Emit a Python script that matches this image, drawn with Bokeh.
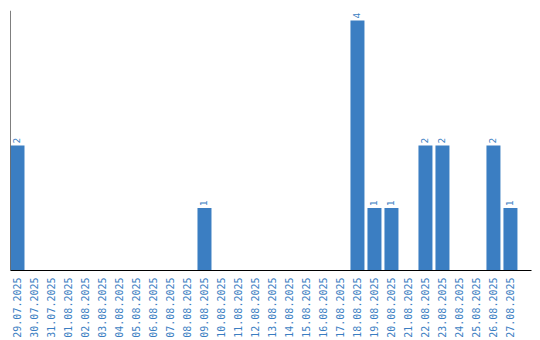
import math
from bokeh.plotting import figure
from bokeh.models import ColumnDataSource, Range1d, FixedTicker, Span
from bokeh.core.properties import value
from bokeh.embed import file_html
from bokeh.resources import INLINE

dates = ["29.07.2025", "30.07.2025", "31.07.2025", "01.08.2025", "02.08.2025",
         "03.08.2025", "04.08.2025", "05.08.2025", "06.08.2025", "07.08.2025",
         "08.08.2025", "09.08.2025", "10.08.2025", "11.08.2025", "12.08.2025",
         "13.08.2025", "14.08.2025", "15.08.2025", "16.08.2025", "17.08.2025",
         "18.08.2025", "19.08.2025", "20.08.2025", "21.08.2025", "22.08.2025",
         "23.08.2025", "24.08.2025", "25.08.2025", "26.08.2025", "27.08.2025"]
counts = [2, 0, 0, 0, 0, 0, 0, 0, 0, 0,
          0, 1, 0, 0, 0, 0, 0, 0, 0, 0,
          4, 1, 1, 0, 2, 2, 0, 0, 2, 1]

BLUE = "#3b7ec2"
bar_w = 14 / 17
centers = [i + bar_w / 2 for i in range(len(dates))]

src = ColumnDataSource(dict(x=centers, top=counts))
lab = ColumnDataSource(dict(
    x=[c for c, v in zip(centers, counts) if v > 0],
    y=[v for v in counts if v > 0],
    t=[str(v) for v in counts if v > 0],
))

p = figure(width=540, height=340, output_backend="svg", toolbar_location=None,
           x_range=Range1d(0, 30.65), y_range=Range1d(0, 4.16),
           min_border_left=10, min_border_right=9, min_border_top=10,
           min_border_bottom=0)
p.outline_line_color = None
p.xgrid.visible = False
p.ygrid.visible = False
p.yaxis.visible = False
p.background_fill_color = "white"

p.vbar(x="x", top="top", width=bar_w, bottom=0, source=src,
       fill_color=BLUE, line_color=None)

p.text(x="x", y="y", text="t", source=lab, angle=math.pi / 2,
       text_align="left", text_baseline="middle", y_offset=-2, x_offset=-1,
       text_font=value("DejaVu Sans"), text_font_size="9px", text_color=BLUE)

p.add_layout(Span(location=0, dimension="height", line_color="black", line_width=1))

xa = p.xaxis[0]
xa.ticker = FixedTicker(ticks=centers)
xa.major_label_overrides = {c: d for c, d in zip(centers, dates)}
xa.major_label_orientation = math.pi / 2
xa.major_tick_line_color = None
xa.major_tick_out = 0
xa.major_tick_in = 0
xa.minor_tick_line_color = None
xa.minor_tick_out = 0
xa.axis_line_color = "black"
xa.axis_line_width = 1
xa.major_label_standoff = 7
xa.major_label_text_font = "DejaVu Sans Mono"
xa.major_label_text_font_size = "10px"
xa.major_label_text_color = BLUE

open("out.html", "w").write(file_html(p, INLINE))
